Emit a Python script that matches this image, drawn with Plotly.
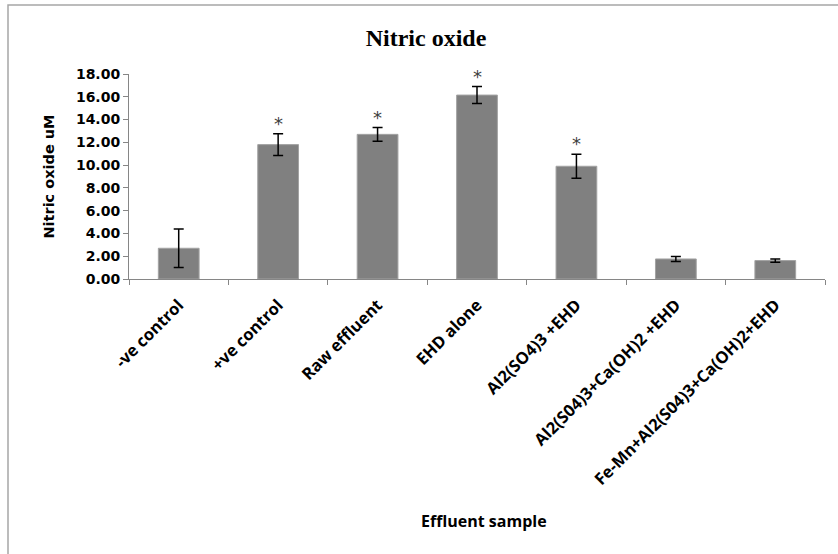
import plotly.graph_objects as go

# Effluent treatment groups and measured nitric oxide (uM), mean ± SD
samples = [
    "-ve control",
    "+ve control",
    "Raw effluent",
    "EHD alone",
    "Al2(SO4)3 +EHD",
    "Al2(S04)3+Ca(OH)2 +EHD",
    "Fe-Mn+Al2(S04)3+Ca(OH)2+EHD",
]
nitric_oxide = [2.70, 11.80, 12.70, 16.15, 9.90, 1.76, 1.62]
sd = [1.70, 0.95, 0.60, 0.75, 1.05, 0.22, 0.14]
significant = [False, True, True, True, True, False, False]

W, H = 838, 554
L, R, T, B = 129, 13, 74, 275

fig = go.Figure()
fig.add_trace(go.Bar(
    x=samples,
    y=nitric_oxide,
    width=0.41,
    marker=dict(color="#808080", line=dict(color="#a3a3a3", width=1)),
    error_y=dict(type="data", array=sd, visible=True,
                 color="#000000", thickness=1.5, width=5),
    showlegend=False,
))

# significance markers above the error bars
for s, v, e, sig in zip(samples, nitric_oxide, sd, significant):
    if sig:
        fig.add_annotation(
            x=s, y=v + e, xref="x", yref="y", text="*", showarrow=False,
            yanchor="bottom", yshift=-2,
            font=dict(family="DejaVu Sans", size=18, color="#404040"),
        )

# Excel-style chart frame
fig.add_shape(type="rect", xref="paper", yref="paper",
              x0=(8 - L) / (W - L - R), x1=1.2,
              y0=-1.5, y1=(H - B - 5) / (H - T - B),
              line=dict(color="#a6a6a6", width=1.5), fillcolor="rgba(0,0,0,0)",
              layer="below")

fig.update_layout(
    width=W, height=H,
    margin=dict(l=L, r=R, t=T, b=B, autoexpand=False),
    paper_bgcolor="white", plot_bgcolor="white",
    title=dict(text="<b>Nitric oxide</b>", x=426 / W, xanchor="center",
               y=1 - 38 / H, yanchor="middle", xref="container", yref="container",
               font=dict(family="Liberation Serif", size=24, color="#000000")),
)

fig.update_yaxes(
    range=[0, 18], dtick=2, tickformat=".2f",
    showgrid=False, zeroline=False,
    showline=True, linecolor="#868686", linewidth=1,
    ticks="outside", ticklen=5, tickcolor="#868686",
    tickfont=dict(family="DejaVu Sans", size=14, color="#000000", weight="bold"),
    title=dict(text="Nitric oxide uM", standoff=17,
               font=dict(family="DejaVu Sans", size=14.5, color="#000000", weight="bold")),
)
fig.update_xaxes(
    type="category", tickangle=-45, tickson="boundaries",
    showgrid=False, zeroline=False,
    showline=True, linecolor="#868686", linewidth=1,
    ticks="outside", ticklen=5, tickcolor="#868686",
    ticklabelstandoff=9,
    tickfont=dict(family="Open Sans", size=16.5, color="#000000", weight="bold"),
)

fig.add_annotation(
    text="Effluent sample", xref="paper", yref="paper",
    x=(484 - L) / (W - L - R), y=(H - B - 521) / (H - T - B),
    showarrow=False, xanchor="center", yanchor="middle",
    font=dict(family="Open Sans", size=16, color="#000000", weight="bold"),
)

fig.write_html("out.html")
